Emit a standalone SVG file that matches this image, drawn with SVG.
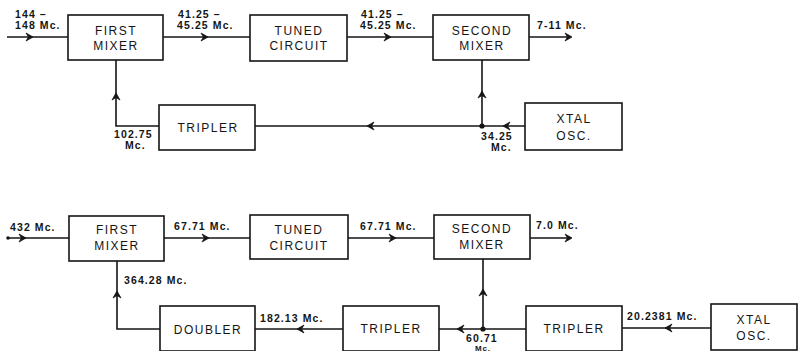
<svg xmlns="http://www.w3.org/2000/svg" xmlns:xlink="http://www.w3.org/1999/xlink" width="798" height="351" viewBox="0 0 798 351">
<style>
  .box { fill: #fff; stroke: #151515; stroke-width: 1.6; }
  .wire { fill: none; stroke: #151515; stroke-width: 1.6; }
  .bt { font-family: "Liberation Sans", Arial, sans-serif; font-size: 12px; letter-spacing: 1.5px; fill: #151515; text-anchor: middle; }
  .lb { font-family: "Liberation Sans", Arial, sans-serif; font-size: 10.5px; font-weight: bold; letter-spacing: 1.1px; fill: #151515; }
  .dot { fill: #151515; }
</style>
<defs>
  <path id="ah" d="M-7,-4 L0,0 L-7,4 L-4.5,0 Z" fill="#151515" stroke="#151515" stroke-width="0.8"/>
</defs>
<rect width="798" height="351" fill="#fff"/>

<g id="connectors">
  <!-- top row -->
  <path class="wire" d="M7,37 H68"/>
  <path class="wire" d="M163,37 H250"/>
  <path class="wire" d="M347,37 H433"/>
  <path class="wire" d="M529,37 H570"/>
  <path class="wire" d="M116,60 V126 H159"/>
  <path class="wire" d="M255,126 H525"/>
  <path class="wire" d="M482,126 V60"/>
  <circle class="dot" cx="482" cy="126" r="2.6"/>
  <use xlink:href="#ah" transform="translate(33,37)"/>
  <use xlink:href="#ah" transform="translate(208,37)"/>
  <use xlink:href="#ah" transform="translate(391,37)"/>
  <use xlink:href="#ah" transform="translate(572,37)"/>
  <use xlink:href="#ah" transform="translate(116,93) rotate(-90)"/>
  <use xlink:href="#ah" transform="translate(367,126) rotate(180)"/>
  <use xlink:href="#ah" transform="translate(482,91) rotate(-90)"/>
  <use xlink:href="#ah" transform="translate(503,126) rotate(180)"/>
  <text class="lb" x="15" y="18">144 –</text>
  <text class="lb" x="15" y="29">148 Mc.</text>
  <text class="lb" x="178" y="18">41.25 –</text>
  <text class="lb" x="177" y="29">45.25 Mc.</text>
  <text class="lb" x="361" y="18">41.25 –</text>
  <text class="lb" x="360" y="29">45.25 Mc.</text>
  <text class="lb" x="537" y="29">7-11 Mc.</text>
  <text class="lb" x="114" y="138">102.75</text>
  <text class="lb" x="125" y="149">Mc.</text>
  <text class="lb" x="481" y="140">34.25</text>
  <text class="lb" x="491" y="151">Mc.</text>

  <!-- bottom row -->
  <path class="wire" d="M8,238 H69"/>
  <circle class="dot" cx="8" cy="238" r="1.8"/>
  <path class="wire" d="M164,238 H250"/>
  <path class="wire" d="M348,238 H434"/>
  <path class="wire" d="M530,238 H571"/>
  <path class="wire" d="M117,261 V329 H160"/>
  <path class="wire" d="M255,329 H343"/>
  <path class="wire" d="M439,329 H526"/>
  <path class="wire" d="M483,329 V259"/>
  <path class="wire" d="M622,328 H711"/>
  <circle class="dot" cx="483" cy="329" r="2.6"/>
  <use xlink:href="#ah" transform="translate(26,238)"/>
  <use xlink:href="#ah" transform="translate(209,238)"/>
  <use xlink:href="#ah" transform="translate(396,238)"/>
  <use xlink:href="#ah" transform="translate(572,238)"/>
  <use xlink:href="#ah" transform="translate(117,291) rotate(-90)"/>
  <use xlink:href="#ah" transform="translate(297,329) rotate(180)"/>
  <use xlink:href="#ah" transform="translate(457,329) rotate(180)"/>
  <use xlink:href="#ah" transform="translate(483,289) rotate(-90)"/>
  <use xlink:href="#ah" transform="translate(665,328) rotate(180)"/>
  <text class="lb" x="10" y="231">432 Mc.</text>
  <text class="lb" x="174" y="230">67.71 Mc.</text>
  <text class="lb" x="360" y="230">67.71 Mc.</text>
  <text class="lb" x="536" y="229">7.0 Mc.</text>
  <text class="lb" x="124" y="284">364.28 Mc.</text>
  <text class="lb" x="260" y="322">182.13 Mc.</text>
  <text class="lb" x="466" y="342">60.71</text>
  <text class="lb" x="475" y="350.5" style="font-size:8px;letter-spacing:0.8px">Mc.</text>
  <text class="lb" x="627" y="320">20.2381 Mc.</text>
</g>

<g id="first-mixer-1">
  <rect class="box" x="68" y="15" width="95" height="45"/>
  <text class="bt" x="116" y="35">FIRST</text>
  <text class="bt" x="116" y="50">MIXER</text>
</g>
<g id="tuned-circuit-1">
  <rect class="box" x="250" y="15" width="97" height="46"/>
  <text class="bt" x="299" y="35">TUNED</text>
  <text class="bt" x="299" y="50">CIRCUIT</text>
</g>
<g id="second-mixer-1">
  <rect class="box" x="433" y="15" width="96" height="45"/>
  <text class="bt" x="482" y="35">SECOND</text>
  <text class="bt" x="482" y="50">MIXER</text>
</g>
<g id="tripler-1">
  <rect class="box" x="159" y="105" width="96" height="45"/>
  <text class="bt" x="208" y="132">TRIPLER</text>
</g>
<g id="xtal-osc-1">
  <rect class="box" x="525" y="103" width="97" height="47"/>
  <text class="bt" x="574" y="123">XTAL</text>
  <text class="bt" x="574" y="140">OSC.</text>
</g>

<g id="first-mixer-2">
  <rect class="box" x="69" y="216" width="95" height="45"/>
  <text class="bt" x="117" y="234">FIRST</text>
  <text class="bt" x="117" y="250">MIXER</text>
</g>
<g id="tuned-circuit-2">
  <rect class="box" x="250" y="215" width="98" height="44"/>
  <text class="bt" x="299" y="234">TUNED</text>
  <text class="bt" x="299" y="250">CIRCUIT</text>
</g>
<g id="second-mixer-2">
  <rect class="box" x="434" y="215" width="96" height="44"/>
  <text class="bt" x="482" y="233">SECOND</text>
  <text class="bt" x="482" y="249">MIXER</text>
</g>
<g id="doubler">
  <rect class="box" x="160" y="306" width="95" height="45"/>
  <text class="bt" x="208" y="334">DOUBLER</text>
</g>
<g id="tripler-2">
  <rect class="box" x="343" y="306" width="96" height="45"/>
  <text class="bt" x="391" y="333">TRIPLER</text>
</g>
<g id="tripler-3">
  <rect class="box" x="526" y="306" width="96" height="45"/>
  <text class="bt" x="574" y="333">TRIPLER</text>
</g>
<g id="xtal-osc-2">
  <rect class="box" x="711" y="304" width="86" height="46"/>
  <text class="bt" x="754" y="324">XTAL</text>
  <text class="bt" x="754" y="340">OSC.</text>
</g>
</svg>
